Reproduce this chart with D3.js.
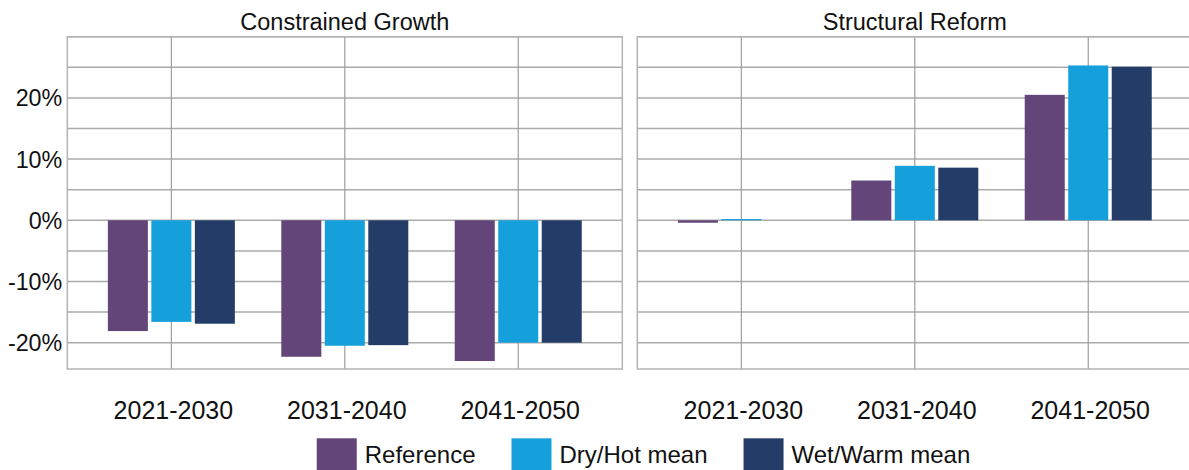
<!DOCTYPE html>
<html>
<head>
<meta charset="utf-8">
<script src="https://cdn.jsdelivr.net/npm/d3@7"></script>
<style>
  html, body { margin: 0; padding: 0; background: #fff; }
  svg { display: block; font-family: "Liberation Sans", Arial, sans-serif; }
</style>
</head>
<body>
<div id="chart"></div>
<script>
const width = 1189;
const height = 470;

// data (percent change)
const categories = ["2021-2030", "2031-2040", "2041-2050"];
const seriesNames = ["Reference", "Dry/Hot mean", "Wet/Warm mean"];
const seriesColors = ["#63457a", "#16a0db", "#243c68"];
const panelTitles = ["Constrained Growth", "Structural Reform"];

const constrainedReference = [-18.1, -22.3, -23.0];
const constrainedDryHot = [-16.6, -20.5, -20.0];
const constrainedWetWarm = [-16.9, -20.4, -20.0];

const structuralReference = [-0.4, 6.5, 20.5];
const structuralDryHot = [0.2, 8.9, 25.3];
const structuralWetWarm = [0.0, 8.6, 25.1];

const yTickLabels = [20, 10, 0, -10, -20];
const yGridValues = [30, 25, 20, 15, 10, 5, 0, -5, -10, -15, -20];

const panels = [
  { title: panelTitles[0], left: 67.3, values: [constrainedReference, constrainedDryHot, constrainedWetWarm], showY: true },
  { title: panelTitles[1], left: 637.3, values: [structuralReference, structuralDryHot, structuralWetWarm], showY: false }
];

const panelWidth = 555;
const plotTop = 36.7;
const plotBottom = 369;

const y = d3.scaleLinear().domain([-24.3, 30]).range([plotBottom, plotTop]);

const svg = d3.select("#chart")
  .append("svg")
  .attr("width", width)
  .attr("height", height);

const gridColor = "#ababab";
const textColor = "#111";

panels.forEach(p => {
  const x = d3.scaleBand()
    .domain(categories)
    .range([p.left, p.left + panelWidth])
    .paddingInner(0)
    .paddingOuter(0.1);

  const groupWidth = 127;
  const xSeries = d3.scaleBand()
    .domain(seriesNames)
    .range([0, groupWidth])
    .paddingInner(0.08);

  const g = svg.append("g");

  // horizontal grid
  g.selectAll("line.hgrid")
    .data(yGridValues)
    .enter()
    .append("line")
    .attr("class", "hgrid")
    .attr("x1", p.left)
    .attr("x2", p.left + panelWidth)
    .attr("y1", d => y(d))
    .attr("y2", d => y(d))
    .attr("stroke", gridColor)
    .attr("stroke-width", 1.5);

  // vertical grid through category centers
  g.selectAll("line.vgrid")
    .data(categories)
    .enter()
    .append("line")
    .attr("class", "vgrid")
    .attr("x1", d => x(d) + x.bandwidth() / 2)
    .attr("x2", d => x(d) + x.bandwidth() / 2)
    .attr("y1", plotTop)
    .attr("y2", plotBottom)
    .attr("stroke", "#9e9e9e")
    .attr("stroke-width", 1.2);

  // frame
  g.append("rect")
    .attr("x", p.left)
    .attr("y", plotTop)
    .attr("width", panelWidth)
    .attr("height", plotBottom - plotTop)
    .attr("fill", "none")
    .attr("stroke", "#b3b3b3")
    .attr("stroke-width", 1.5);

  // bars
  const barData = [];
  categories.forEach((c, ci) => {
    seriesNames.forEach((s, si) => {
      barData.push({ cat: c, series: s, si: si, value: p.values[si][ci] });
    });
  });

  g.selectAll("rect.bar")
    .data(barData)
    .enter()
    .append("rect")
    .attr("class", "bar")
    .attr("x", d => x(d.cat) + x.bandwidth() / 2 - groupWidth / 2 + xSeries(d.series))
    .attr("width", xSeries.bandwidth())
    .attr("y", d => y(Math.max(0, d.value)))
    .attr("height", d => Math.abs(y(d.value) - y(0)))
    .attr("fill", d => seriesColors[d.si]);

  // title
  svg.append("text")
    .attr("x", p.left + panelWidth / 2)
    .attr("y", 29.5)
    .attr("text-anchor", "middle")
    .attr("font-size", "23.5px")
    .attr("fill", textColor)
    .text(p.title);

  // category labels
  svg.append("g")
    .selectAll("text")
    .data(categories)
    .enter()
    .append("text")
    .attr("x", d => x(d) + x.bandwidth() / 2 + 2)
    .attr("y", 418.5)
    .attr("text-anchor", "middle")
    .attr("font-size", "25px")
    .attr("fill", textColor)
    .text(d => d);

  if (p.showY) {
    svg.append("g")
      .selectAll("text")
      .data(yTickLabels)
      .enter()
      .append("text")
      .attr("x", p.left - 5)
      .attr("y", d => y(d) + 8.5)
      .attr("text-anchor", "end")
      .attr("font-size", "23.3px")
      .attr("fill", textColor)
      .text(d => d + "%");
  }
});

// legend
const legend = svg.append("g");
const boxW = 40, boxH = 32, textGap = 8, itemGap = 36;
const items = legend.selectAll("g")
  .data(seriesNames)
  .enter()
  .append("g");

items.append("rect")
  .attr("width", boxW)
  .attr("height", boxH)
  .attr("y", 438.3)
  .attr("fill", (d, i) => seriesColors[i]);

items.append("text")
  .attr("x", boxW + textGap)
  .attr("y", 463.3)
  .attr("font-size", "24px")
  .attr("fill", textColor)
  .text(d => d);

let cursor = 0;
const widths = [];
items.each(function () {
  const w = boxW + textGap + d3.select(this).select("text").node().getComputedTextLength();
  widths.push(w);
});
const total = d3.sum(widths) + itemGap * (widths.length - 1);
cursor = 643.5 - total / 2;
items.attr("transform", (d, i) => {
  const t = `translate(${cursor},0)`;
  cursor += widths[i] + itemGap;
  return t;
});
</script>
</body>
</html>
